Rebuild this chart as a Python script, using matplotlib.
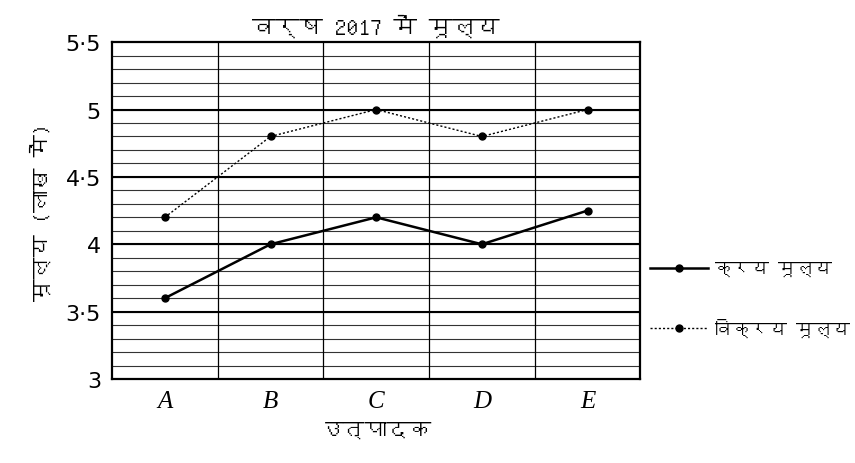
import matplotlib
matplotlib.use('Agg')
import matplotlib.pyplot as plt
import numpy as np
from matplotlib import font_manager
from matplotlib.ft2font import FT2Font

# data (lakh)
producers = ['A', 'B', 'C', 'D', 'E']
cost_price = [3.6, 4.0, 4.2, 4.0, 4.25]
selling_price = [4.2, 4.8, 5.0, 4.8, 5.0]
y_ticks = [3, 3.5, 4, 4.5, 5, 5.5]
y_tick_labels = ['3', '3·5', '4', '4·5', '5', '5·5']

title = 'वर्ष 2017 में मूल्य'
x_label = 'उत्पादक'
y_label = 'मूल्य (लाख में)'
cost_label = 'क्रय मूल्य'
sell_label = 'विक्रय मूल्य'


def devanagari_fonts():
    # look for any installed family that has Devanagari glyphs
    names = []
    for f in font_manager.fontManager.ttflist:
        try:
            if 0x0915 in FT2Font(f.fname).get_charmap():
                if f.name not in names:
                    names.append(f.name)
        except Exception:
            pass
    # proportional faces first
    names.sort(key=lambda n: 'Mono' in n)
    return names


hindi = devanagari_fonts() + ['DejaVu Sans']
plt.rcParams['font.family'] = hindi

fig = plt.figure(figsize=(8.55, 4.64), dpi=100)
ax = fig.add_axes([0.131, 0.181, 0.618, 0.726])

x = np.arange(1, len(producers) + 1)

# grid: fine lines every 0.1, heavier every 0.5, columns between producers
for v in np.arange(3.1, 5.5, 0.1):
    ax.axhline(v, color='#333333', lw=0.8, zorder=1)
for v in y_ticks[1:-1]:
    ax.axhline(v, color='black', lw=1.5, zorder=1)
for v in x[:-1] + 0.5:
    ax.axvline(v, color='black', lw=0.9, zorder=1)

ax.plot(x, cost_price, color='black', lw=1.8, marker='o', ms=5,
        label=cost_label, zorder=3)
ax.plot(x, selling_price, color='black', lw=1.0, ls=(0, (1.5, 1.5)),
        marker='o', ms=5, label=sell_label, zorder=3)

ax.set_xlim(0.5, 5.5)
ax.set_ylim(3, 5.5)
ax.set_yticks(y_ticks)
ax.set_yticklabels(y_tick_labels, fontsize=16, family='DejaVu Sans')
ax.set_xticks(x)
ax.set_xticklabels(producers, fontsize=18, family='Liberation Serif',
                   style='italic')
ax.tick_params(length=0, pad=8)
for s in ax.spines.values():
    s.set_linewidth(1.6)

ax.set_title(title, fontsize=17, pad=6)
ax.set_xlabel(x_label, fontsize=16, labelpad=6)
ax.set_ylabel(y_label, fontsize=16, labelpad=10)

fig.legend(loc='upper left', bbox_to_anchor=(650 / 855, 1 - 262 / 464),
           frameon=False, fontsize=13, handlelength=3.2, handletextpad=0.4,
           labelspacing=2.3, borderpad=0, borderaxespad=0)

fig.savefig('out.png', dpi=100, facecolor='white')
